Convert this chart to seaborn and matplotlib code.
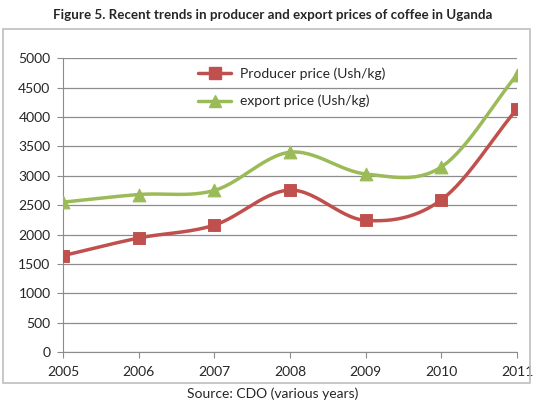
import numpy as np
import pandas as pd
import matplotlib
matplotlib.use("Agg")
import matplotlib.pyplot as plt
from matplotlib.lines import Line2D
import seaborn as sns

# data
years = [2005, 2006, 2007, 2008, 2009, 2010, 2011]
producer_price = [1640, 1940, 2160, 2755, 2240, 2590, 4140]
export_price = [2550, 2680, 2750, 3400, 3030, 3150, 4720]
yticks = [0, 500, 1000, 1500, 2000, 2500, 3000, 3500, 4000, 4500, 5000]

red = "#C0504D"
green = "#9BBB59"


def smooth(x, y, n=30):
    # Catmull-Rom style smoothing like Excel's "smoothed line"
    x = np.asarray(x, float)
    y = np.asarray(y, float)
    px = np.concatenate([[2 * x[0] - x[1]], x, [2 * x[-1] - x[-2]]])
    py = np.concatenate([[2 * y[0] - y[1]], y, [2 * y[-1] - y[-2]]])
    xs, ys = [], []
    t = np.linspace(0, 1, n)
    for i in range(1, len(px) - 2):
        p0, p1, p2, p3 = py[i - 1], py[i], py[i + 1], py[i + 2]
        q0, q1, q2, q3 = px[i - 1], px[i], px[i + 1], px[i + 2]
        xs.append(0.5 * ((2 * q1) + (-q0 + q2) * t + (2 * q0 - 5 * q1 + 4 * q2 - q3) * t ** 2 + (-q0 + 3 * q1 - 3 * q2 + q3) * t ** 3))
        ys.append(0.5 * ((2 * p1) + (-p0 + p2) * t + (2 * p0 - 5 * p1 + 4 * p2 - p3) * t ** 2 + (-p0 + 3 * p1 - 3 * p2 + p3) * t ** 3))
    return np.concatenate(xs), np.concatenate(ys)


sns.set_style("white")
plt.rcParams['font.family'] = ['Lato', 'DejaVu Sans']

fig = plt.figure(figsize=(5.46, 4.01), dpi=100)
ax = fig.add_axes([0.1154, 0.122, 0.8316, 0.733])

sx, sy = smooth(years, producer_price)
sns.lineplot(x=sx, y=sy, ax=ax, color=red, linewidth=2.5, sort=False)
sns.scatterplot(x=years, y=producer_price, ax=ax, color=red, marker="s", s=70,
                edgecolor=red, zorder=3)
sx, sy = smooth(years, export_price)
sns.lineplot(x=sx, y=sy, ax=ax, color=green, linewidth=2.5, sort=False)
sns.scatterplot(x=years, y=export_price, ax=ax, color=green, marker="^", s=85,
                edgecolor=green, zorder=3)

ax.set_xlim(2005, 2011)
ax.set_ylim(0, 5000)
ax.set_yticks(yticks)
ax.set_xticks(years)
ax.yaxis.grid(True, color="#8c8c8c", linewidth=0.9)
ax.set_axisbelow(True)
for s in ["top", "right"]:
    ax.spines[s].set_visible(False)
ax.spines["left"].set_color("#8c8c8c")
ax.spines["bottom"].set_color("#8c8c8c")
ax.tick_params(axis="x", direction="out", length=4, color="#8c8c8c", labelsize=10, pad=6)
ax.tick_params(axis="y", direction="out", length=4, color="#8c8c8c", labelsize=10, pad=5)
ax.tick_params(axis="both", bottom=True, left=True)

handles = [Line2D([], [], color=red, lw=2.5, marker="s", markersize=8),
           Line2D([], [], color=green, lw=2.5, marker="^", markersize=9)]
ax.legend(handles, ["Producer price (Ush/kg)", "export price (Ush/kg)"],
          loc="upper left", bbox_to_anchor=(0.27, 1.01), frameon=False,
          fontsize=10, handlelength=2.4, labelspacing=1.05, handletextpad=0.6)

# outer chart border
fig.patches.append(plt.Rectangle((3 / 546, 1 - 383 / 401), 527 / 546, 354 / 401,
                                 transform=fig.transFigure, fill=False,
                                 edgecolor="#bfbfbf", linewidth=1.2))

fig.text(0.5, 1 - 15 / 401, "Figure 5. Recent trends in producer and export prices of coffee in Uganda",
         ha="center", va="center", fontsize=9.6, fontweight="bold")
fig.text(0.5, 1 - 394 / 401, "Source: CDO (various years)", ha="center", va="center",
         fontsize=10)

fig.savefig("out.png", dpi=100)
